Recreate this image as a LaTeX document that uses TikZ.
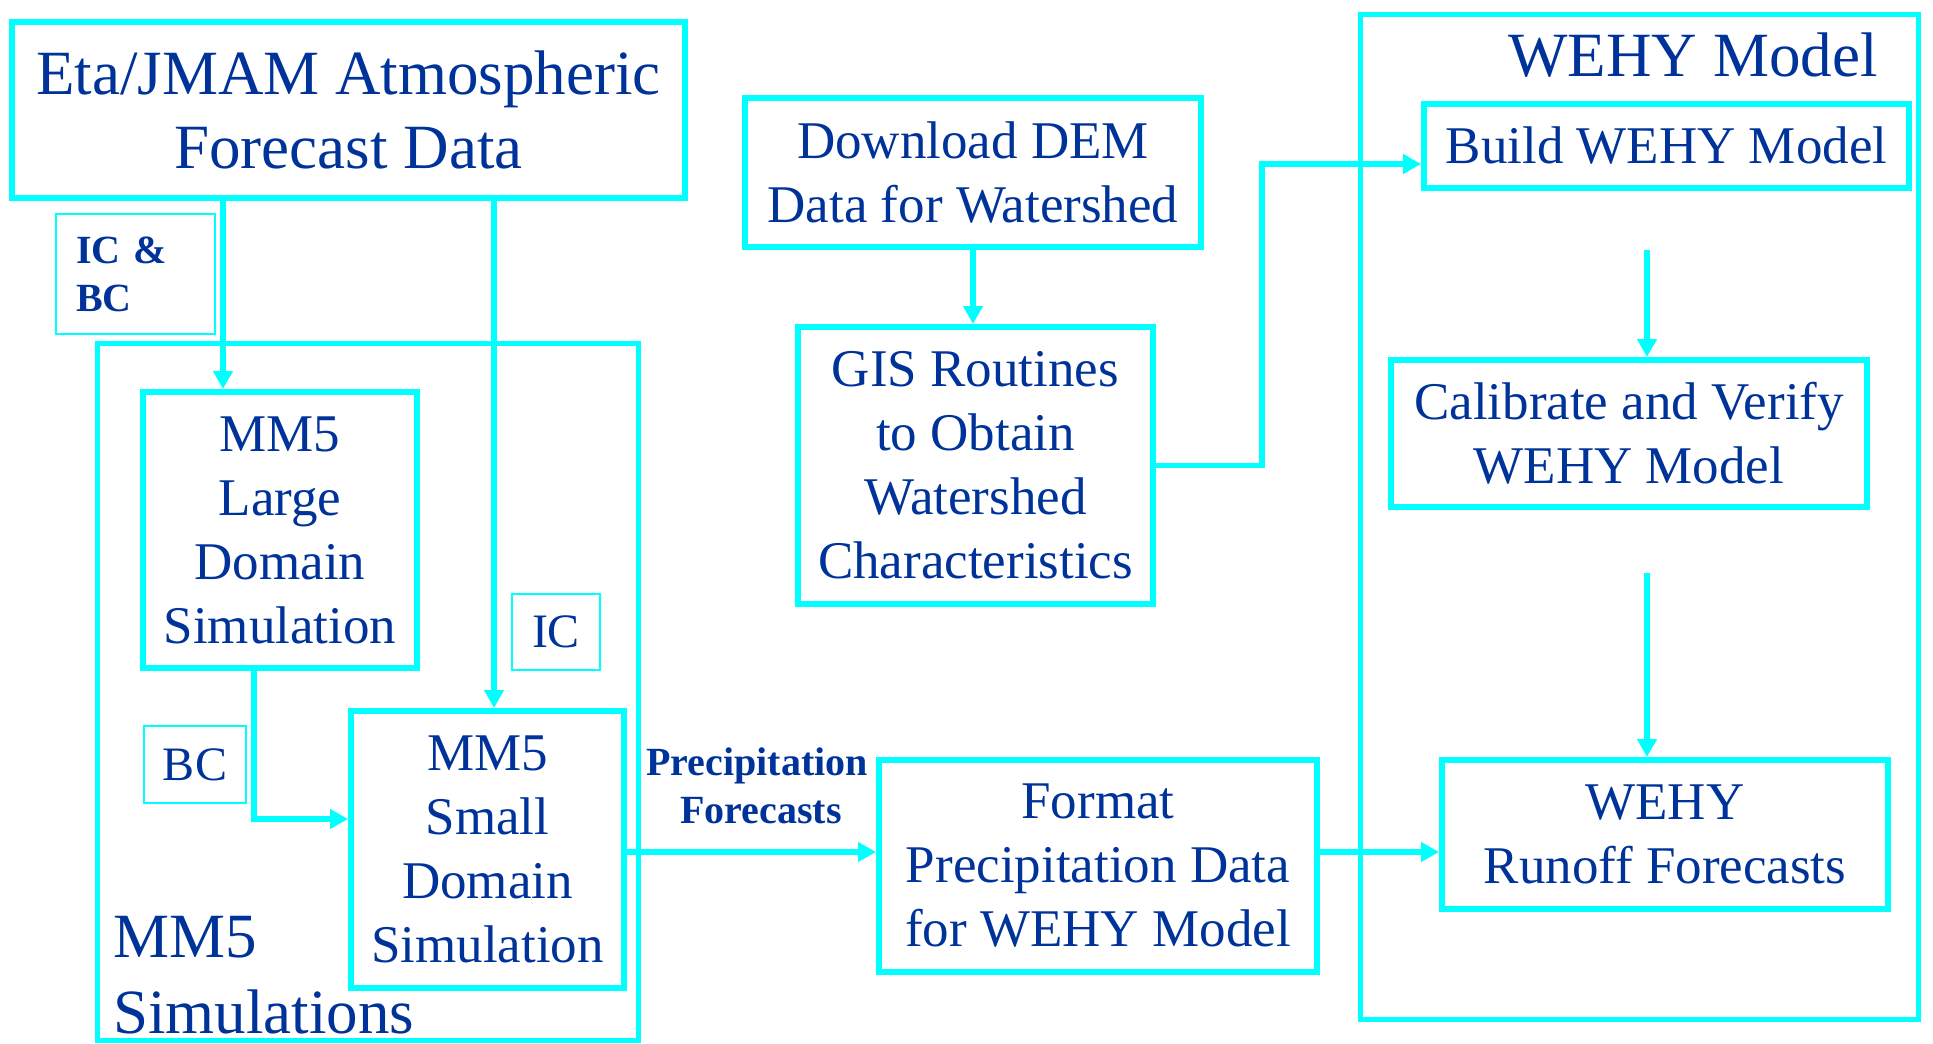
\documentclass[tikz,border=0pt]{standalone}
\usepackage{fontspec}
\setmainfont{Liberation Serif}
\usetikzlibrary{arrows.meta}
\definecolor{wire}{RGB}{0,255,255}
\definecolor{ink}{RGB}{0,51,153}
\newcommand\bigtxt{\fontsize{63}{74}\selectfont}
\newcommand\midtxt{\fontsize{53}{64}\selectfont}
\newcommand\tagtxt{\fontsize{48}{58}\selectfont}
\newcommand\boldtxt{\fontsize{40}{48}\selectfont\bfseries}
\begin{document}
\begin{tikzpicture}[x=1pt,y=-1pt,
  box/.style={draw=wire,line width=6pt,inner sep=0pt,align=center,text=ink,font=\midtxt},
  frame/.style={draw=wire,line width=5pt,inner sep=0pt},
  tag/.style={draw=wire,line width=2.5pt,inner sep=0pt,align=center,text=ink,font=\tagtxt},
  lbl/.style={text=ink,inner sep=0pt},
  arr/.style={draw=wire,line width=5.5pt,-{Triangle[length=18pt,width=19pt]}}
]
\useasboundingbox (0,0) rectangle (1933,1044);

% group frames
\node[frame,minimum width=541pt,minimum height=697pt] (mmframe) at (367.5,691.5) {};
\node[frame,minimum width=558pt,minimum height=1005pt] (wehyframe) at (1639,516.5) {};

% forecast data source
\node[box,font=\bigtxt,minimum width=673pt,minimum height=176pt] (eta) at (348.5,110)
  {Eta/JMAM Atmospheric\\Forecast Data};
\node[tag,font=\boldtxt,align=left,text width=119pt,minimum width=159pt,minimum height=120pt] (icbc) at (135.5,274)
  {IC \&\\BC};

% MM5 simulations
\node[box,minimum width=274pt,minimum height=276pt] (large) at (280,530)
  {MM5\\Large\\Domain\\Simulation};
\node[box,minimum width=273pt,minimum height=277pt] (small) at (487.5,849.5)
  {MM5\\Small\\Domain\\Simulation};
\node[tag,minimum width=88pt,minimum height=76pt] (ic) at (556,632) {IC};
\node[tag,minimum width=102pt,minimum height=77pt] (bc) at (195,764.5) {BC};
\node[lbl,font=\fontsize{63}{76}\selectfont,align=left,anchor=west] (mmlbl) at (113,975)
  {MM5\\Simulations};

% watershed data
\node[box,minimum width=456pt,minimum height=149pt] (dem) at (973,172.5)
  {Download DEM\\Data for Watershed};
\node[box,minimum width=355pt,minimum height=277pt] (gis) at (975.5,465.5)
  {GIS Routines\\to Obtain\\Watershed\\Characteristics};
\node[box,minimum width=438pt,minimum height=212pt] (format) at (1098,866)
  {Format\\Precipitation Data\\for WEHY Model};
\node[lbl,font=\boldtxt,align=center] (pf) at (757,786) {Precipitation\\\hspace*{8pt}Forecasts};

% WEHY model
\node[lbl,font=\bigtxt] (wehyttl) at (1693,55) {WEHY Model};
\node[box,minimum width=485pt,minimum height=84pt] (build) at (1666.5,146) {Build WEHY Model};
\node[box,minimum width=476pt,minimum height=147pt] (cal) at (1629,433.5)
  {Calibrate and Verify\\WEHY Model};
\node[box,minimum width=446pt,minimum height=149pt] (runoff) at (1665,834.5)
  {WEHY\\Runoff Forecasts};

% connector guide points
\coordinate (xa) at (223,0);
\coordinate (xb) at (494,0);
\coordinate (kbc) at (254,819);
\coordinate (yp) at (0,852);
\coordinate (kgis) at (1262,164);
\coordinate (c1) at (1647,250);
\coordinate (c2) at (1647,573);

% connectors
\draw[arr] (eta.south -| xa) -- (large.north -| xa);
\draw[arr] (eta.south -| xb) -- (small.north -| xb);
\draw[arr] (large.south -| kbc) |- (small.west |- kbc);
\draw[arr] (small.east |- yp) -- (format.west |- yp);
\draw[arr] (dem.south) -- (dem.south |- gis.north);
\draw[arr] (gis.east) -| (kgis) -- (build.west |- kgis);
\draw[arr] (c1) -- (c1 |- cal.north);
\draw[arr] (c2) -- (c2 |- runoff.north);
\draw[arr] (format.east |- yp) -- (runoff.west |- yp);
\end{tikzpicture}
\end{document}
